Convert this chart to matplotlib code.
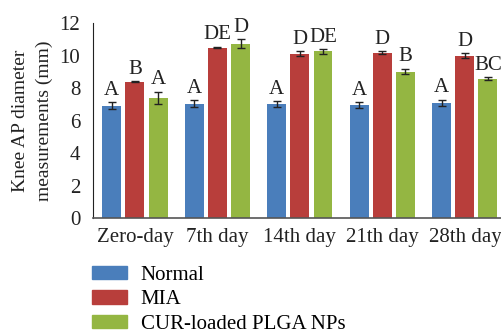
import numpy as np
import matplotlib
matplotlib.use("Agg")
import matplotlib.pyplot as plt
from matplotlib.patches import Patch

# ===== DATA =====
days = ["Zero-day", "7th day", "14th day", "21th day", "28th day"]
groups = ["Normal", "MIA", "CUR-loaded PLGA NPs"]
normal = [6.93, 7.05, 7.03, 6.97, 7.09]
mia = [8.41, 10.51, 10.14, 10.20, 10.02]
cur = [7.42, 10.76, 10.27, 9.03, 8.60]
normal_err = [0.20, 0.20, 0.18, 0.18, 0.20]
mia_err = [0.03, 0.05, 0.15, 0.10, 0.13]
cur_err = [0.38, 0.25, 0.15, 0.18, 0.08]
normal_lbl = ["A", "A", "A", "A", "A"]
mia_lbl = ["B", "DE", "D", "D", "D"]
cur_lbl = ["A", "D", "DE", "B", "BC"]

colors = ["#4a7ebb", "#b83e3b", "#94b642"]

plt.rcParams['font.family'] = ['Liberation Serif', 'DejaVu Serif']

fig = plt.figure(figsize=(5.02, 3.34), dpi=100)
ax = fig.add_axes([0.185, 0.347, 0.815, 0.583])

x = np.arange(len(days))
width = 0.23
step = 0.28
series = [(normal, normal_err, normal_lbl), (mia, mia_err, mia_lbl), (cur, cur_err, cur_lbl)]
for i, (vals, errs, lbls) in enumerate(series):
    pos = x + (i - 1) * step
    ax.bar(pos, vals, width, color=colors[i], yerr=errs,
           error_kw=dict(ecolor="#222222", elinewidth=1.0, capsize=3, capthick=1.0))
    for p, v, e, t in zip(pos, vals, errs, lbls):
        ax.text(p, v + e + 0.15, t, ha="center", va="bottom", fontsize=15, color="#222222")

ax.set_xlim(-0.51, 4.45)
ax.set_ylim(0, 12)
ax.set_yticks(range(0, 13, 2))
ax.set_xticks(x)
ax.set_xticklabels(days)
ax.tick_params(axis="both", labelsize=15, colors="#222222", length=0)
ax.tick_params(axis="y", pad=9)
ax.tick_params(axis="x", pad=7)
for s in ["top", "right"]:
    ax.spines[s].set_visible(False)
ax.spines["left"].set_color("#222222")
ax.spines["bottom"].set_color("#555555")
ax.spines["bottom"].set_linewidth(1.2)
ax.set_ylabel("Knee AP diameter\nmeasurements (mm)", fontsize=14, color="#222222",
              labelpad=5, linespacing=1.45)

handles = [Patch(color=c) for c in colors]
fig.legend(handles, groups, loc="upper left", bbox_to_anchor=(0.183, 0.203), frameon=False,
           fontsize=15, handlelength=1.7, handleheight=0.6, labelspacing=0.25, handletextpad=0.65,
           borderaxespad=0, borderpad=0)

fig.savefig("out.png", dpi=100)
